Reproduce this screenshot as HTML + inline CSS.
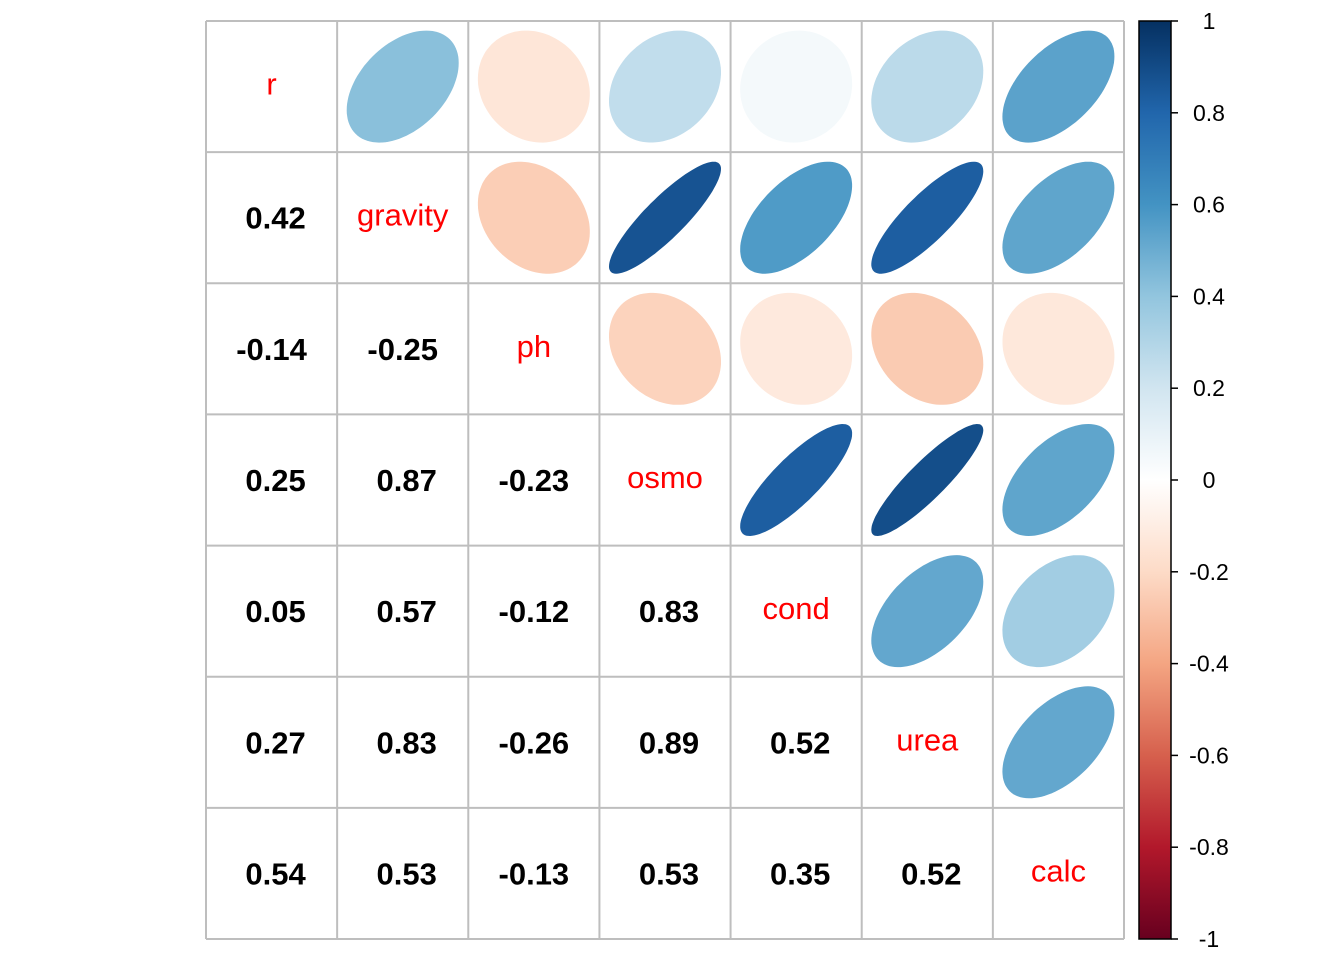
<!DOCTYPE html>
<html><head><meta charset="utf-8"><style>
html,body{margin:0;padding:0;background:#fff;}
svg{display:block;font-family:"Liberation Sans",sans-serif;}
</style></head><body>
<svg id="s" width="1344" height="960" xmlns="http://www.w3.org/2000/svg"></svg>
<script>
const names=["r","gravity","ph","osmo","cond","urea","calc"];
const M=[
[1,.42,-.14,.25,.05,.27,.54],
[.42,1,-.25,.87,.57,.83,.53],
[-.14,-.25,1,-.23,-.12,-.26,-.13],
[.25,.87,-.23,1,.83,.89,.53],
[.05,.57,-.12,.83,1,.52,.35],
[.27,.83,-.26,.89,.52,1,.52],
[.54,.53,-.13,.53,.35,.52,1]];
const pal=["#67001F","#B2182B","#D6604D","#F4A582","#FDDBC7","#FFFFFF","#D1E5F0","#92C5DE","#4393C3","#2166AC","#053061"];
function hx(h){return [1,3,5].map(i=>parseInt(h.substr(i,2),16));}
function col(v){let p=(v+1)/0.2;let i=Math.min(9,Math.floor(p));let f=p-i;let a=hx(pal[i]),b=hx(pal[i+1]);return "rgb("+a.map((x,k)=>Math.round(x+(b[k]-x)*f)).join(",")+")";}
const x0=206,y0=21,W=918,n=7,c=W/n;
let h="";
for(let i=0;i<n;i++)for(let j=0;j<n;j++){
 const cx=x0+c*(j+.5),cy=y0+c*(i+.5),v=M[i][j];
 if(j>i){
  const d=Math.acos(v);let pts=[];
  for(let k=0;k<100;k++){const t=k/100*2*Math.PI;pts.push((cx+56*Math.cos(t+d/2)).toFixed(1)+","+(cy-56*Math.cos(t-d/2)).toFixed(1));}
  h+=`<polygon points="${pts.join(" ")}" fill="${col(v)}"/>`;
 }else if(i==j){
  h+=`<text x="${cx}" y="${cy+8}" text-anchor="middle" font-size="31" fill="#FF0000">${names[i]}</text>`;
 }else{
  const off=v<0?0:4;
  h+=`<text x="${cx+off}" y="${cy+11}" text-anchor="middle" font-size="31" font-weight="bold" fill="#000">${v.toFixed(2)}</text>`;
 }
}
for(let k=0;k<=n;k++){const p=x0+c*k;h+=`<line x1="${p}" y1="${y0}" x2="${p}" y2="${y0+W}" stroke="#BEBEBE" stroke-width="2"/><line x1="${x0}" y1="${y0+c*k}" x2="${x0+W}" y2="${y0+c*k}" stroke="#BEBEBE" stroke-width="2"/>`;}
let st="";for(let k=0;k<=10;k++)st+=`<stop offset="${k*10}%" stop-color="${pal[10-k]}"/>`;
h+=`<defs><linearGradient id="g" x1="0" y1="0" x2="0" y2="1">${st}</linearGradient></defs>`;
h+=`<rect x="1139" y="21" width="32" height="918" fill="url(#g)" stroke="#000" stroke-width="1.5"/>`;
for(let k=0;k<=10;k++){const v=1-k*0.2;const y=21+k*91.8;const lab=Math.abs(v)<1e-9?"0":(Math.abs(Math.abs(v)-1)<1e-9?(v>0?"1":"-1"):v.toFixed(1));
 h+=`<line x1="1171" y1="${y}" x2="1178" y2="${y}" stroke="#000" stroke-width="1.5"/><text x="1209" y="${y+8}" text-anchor="middle" font-size="23" fill="#000">${lab}</text>`;}
document.getElementById("s").innerHTML=h;
</script>
</body></html>
